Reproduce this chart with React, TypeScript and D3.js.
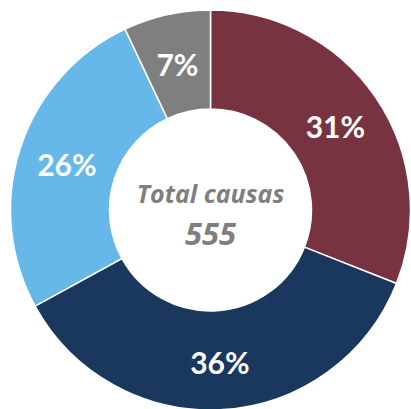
import React from "react";
import * as d3 from "d3";

const categories = ["A", "B", "C", "D"];
const values = [172, 200, 144, 39];
const colors = ["#77333F", "#1A375E", "#65B8E7", "#7F7F7F"];
const centerTitle = "Total causas";
const total = 555;

const W = 411;
const H = 409;
const cx = 210.5;
const cy = 210;
const outerR = 200;
const innerR = 101;
const labelR = 151;

export default function App() {
  const pie = d3.pie<number>().sort(null).value((d) => d)(values);
  const arc = d3.arc<d3.PieArcDatum<number>>().innerRadius(innerR).outerRadius(outerR);
  const labelArc = d3.arc<d3.PieArcDatum<number>>().innerRadius(labelR).outerRadius(labelR);
  const sum = d3.sum(values);
  return (
    <svg width={W} height={H} style={{ position: "absolute", left: 0, top: 0 }}>
      <g transform={`translate(${cx},${cy})`}>
        {pie.map((p, i) => (
          <path key={categories[i]} d={arc(p) || ""} fill={colors[i]} stroke="#fff" strokeWidth={1.5} />
        ))}
        {pie.map((p, i) => {
          const [x, y] = labelArc.centroid(p);
          return (
            <text
              key={"l" + i}
              x={x}
              y={y + 13}
              textAnchor="middle"
              fill="#fff"
              fontFamily="Lato, sans-serif"
              fontWeight={700}
              fontSize={30}
            >
              {Math.round((p.data / sum) * 100) + "%"}
            </text>
          );
        })}
        <text
          x={0}
          y={-7}
          textAnchor="middle"
          fill="#7F7F7F"
          fontFamily="'Open Sans', sans-serif"
          fontWeight={700}
          fontStyle="italic"
          fontSize={25}
        >
          {centerTitle}
        </text>
        <text
          x={0}
          y={35}
          textAnchor="middle"
          fill="#7F7F7F"
          fontFamily="'Open Sans', sans-serif"
          fontWeight={700}
          fontStyle="italic"
          fontSize={31}
        >
          {total}
        </text>
      </g>
    </svg>
  );
}
